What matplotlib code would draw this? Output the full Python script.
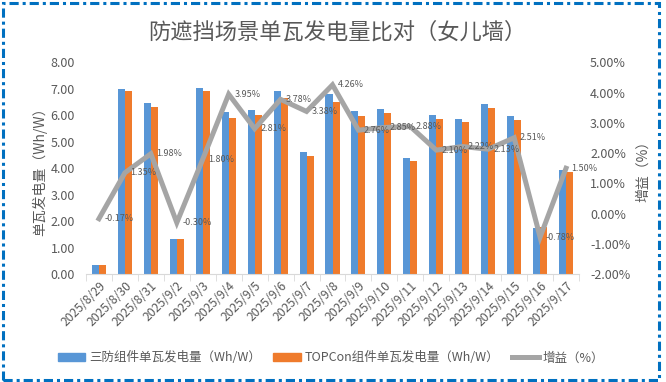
import numpy as np
import matplotlib
matplotlib.use('Agg')
from matplotlib import pyplot as plt
from matplotlib.patches import Rectangle, Patch
from matplotlib.lines import Line2D

plt.rcParams['font.family'] = ['Noto Sans CJK SC', 'DejaVu Sans']

# data
dates = ['2025/8/29', '2025/8/30', '2025/8/31', '2025/9/2', '2025/9/3', '2025/9/4',
         '2025/9/5', '2025/9/6', '2025/9/7', '2025/9/8', '2025/9/9', '2025/9/10',
         '2025/9/11', '2025/9/12', '2025/9/13', '2025/9/14', '2025/9/15', '2025/9/16',
         '2025/9/17']
sanfang = [0.35, 7.00, 6.45, 1.33, 7.05, 6.12, 6.20, 6.92, 4.62, 6.80,
           6.16, 6.25, 4.39, 6.00, 5.87, 6.43, 5.96, 1.75, 3.92]
topcon = [0.351, 6.91, 6.32, 1.334, 6.93, 5.89, 6.03, 6.67, 4.47, 6.52,
          5.99, 6.08, 4.27, 5.88, 5.74, 6.29, 5.81, 1.764, 3.86]
gain = [-0.17, 1.35, 1.98, -0.30, 1.80, 3.95, 2.81, 3.78, 3.38, 4.26,
        2.76, 2.85, 2.88, 2.10, 2.22, 2.13, 2.51, -0.78, 1.50]

blue = '#5896D6'
orange = '#EF7B2C'
grey_line = '#A5A5A5'
txt = '#595959'

fig = plt.figure(figsize=(6.66, 3.82), dpi=100)
ax = fig.add_axes([0.1291, 0.2827, 0.7403, 0.5537])
ax2 = ax.twinx()

x = np.arange(len(dates))
w = 0.27
ax.bar(x - w / 2, sanfang, w, color=blue)
ax.bar(x + w / 2, topcon, w, color=orange)
ax.set_xlim(-0.5, len(dates) - 0.5)
ax.set_ylim(0, 8)
ax.set_yticks(np.arange(0, 8.01, 1))
ax.set_yticklabels(['%.2f' % v for v in np.arange(0, 8.01, 1)])

ax2.plot(x, gain, color=grey_line, lw=3.6, solid_joinstyle='miter')
ax2.set_ylim(-2, 5)
ax2.set_yticks(np.arange(-2, 5.01, 1))
ax2.set_yticklabels(['%.2f%%' % v for v in np.arange(-2, 5.01, 1)])
for xi, g in zip(x, gain):
    ax2.annotate('%.2f%%' % g, (xi, g), xytext=(4, 0), textcoords='offset points',
                 ha='left', va='center', fontsize=6.5, color=txt)

for a in (ax, ax2):
    for s in ('top', 'left', 'right'):
        a.spines[s].set_visible(False)
    a.spines['bottom'].set_color('#D9D9D9')
    a.tick_params(axis='y', length=0, labelsize=9, labelcolor=txt, pad=8)
ax2.spines['bottom'].set_visible(False)

ax.set_xticks(x)
ax.set_xticklabels(dates, rotation=45, ha='right', rotation_mode='anchor')
ax.tick_params(axis='x', which='major', length=0, labelsize=8.8, labelcolor=txt, pad=4)
ax.set_xticks(np.arange(-0.5, len(dates), 1), minor=True)
ax.tick_params(axis='x', which='minor', length=5, color='#D9D9D9')

ax.set_ylabel('单瓦发电量（Wh/W）', fontsize=10, color=txt, labelpad=2)
ax2.set_ylabel('增益（%）', fontsize=10, color=txt, rotation=90, labelpad=4)

fig.text(0.507, 0.915, '防遮挡场景单瓦发电量比对（女儿墙）', ha='center', va='center',
         fontsize=16, color=txt)

handles = [Patch(color=blue), Patch(color=orange), Line2D([], [], color=grey_line, lw=3.6)]
labels = ['三防组件单瓦发电量（Wh/W）', 'TOPCon组件单瓦发电量（Wh/W）', '增益（%）']
leg = fig.legend(handles, labels, loc='center', bbox_to_anchor=(0.497, 0.063), ncol=3,
                 frameon=False, fontsize=9, handlelength=2.2, handleheight=0.5,
                 columnspacing=1.0, handletextpad=0.3)
for t in leg.get_texts():
    t.set_color(txt)

# dash-dot blue frame
fig.patches.append(Rectangle((2.5 / 666, 2.5 / 382), 656 / 666, 377 / 382,
                             transform=fig.transFigure, fill=False, edgecolor='#0070C0',
                             lw=2.2, linestyle=(0, (3.0, 1.3, 1.0, 1.3))))

fig.savefig('out.png', dpi=100)
